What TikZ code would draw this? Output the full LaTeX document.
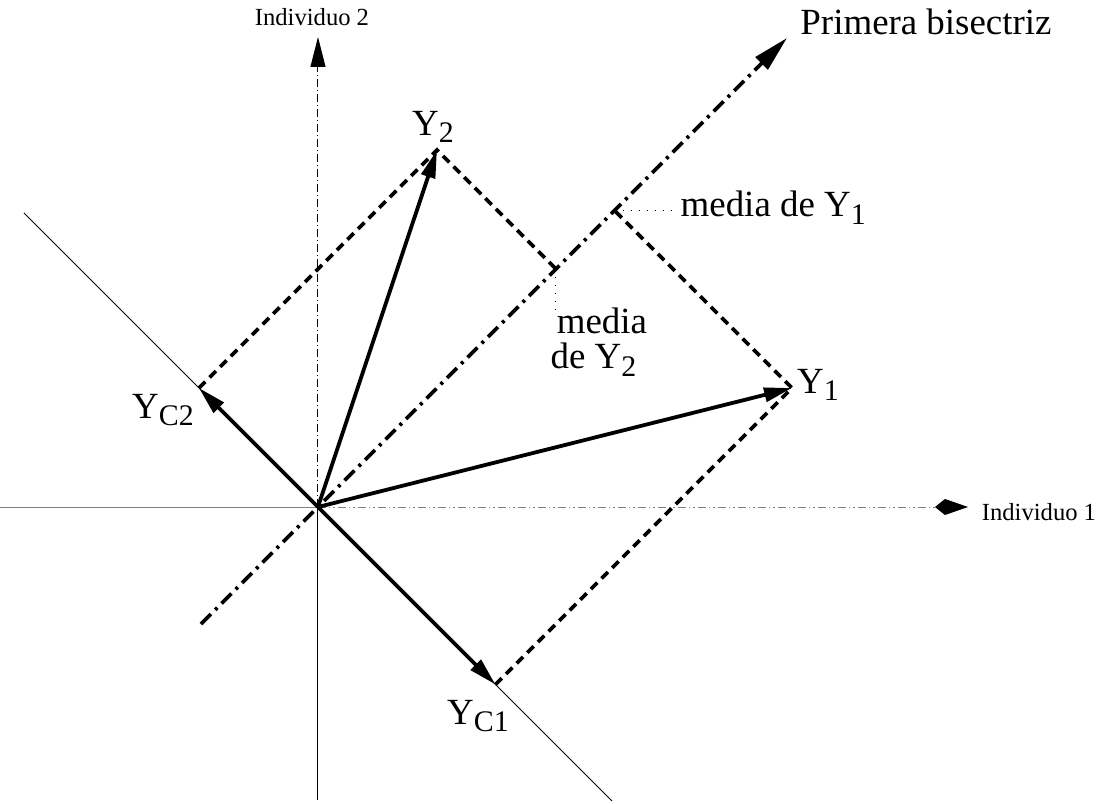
\documentclass[tikz,border=0pt]{standalone}
\usepackage{fontspec}
\setmainfont{Liberation Serif}
\usetikzlibrary{arrows.meta}

\newcommand{\subin}[1]{\raisebox{-0.45ex}{\fontsize{8.5}{8.5}\selectfont #1}}

\begin{document}
\begin{tikzpicture}[x=0.1mm, y=0.1mm,
      every node/.style={inner sep=0pt, font=\fontsize{10.5}{12}\selectfont},
      small/.style={font=\fontsize{7}{8.4}\selectfont},
      eje/.style={line width=0.1mm},
      vec/.style={line width=0.38mm, -{Triangle[length=2.8mm, width=1.4mm]}},
      proy/.style={line width=0.36mm, dash pattern=on 0.9mm off 0.6mm},
      bisec/.style={line width=0.36mm, dash pattern=on 1.4mm off 0.6mm on 0.3mm off 0.6mm,
                    -{Triangle[length=3.6mm, width=1.7mm]}},
      guia/.style={line width=0.1mm, dotted}]
  \useasboundingbox (-318,-297) rectangle (794,507);
  % puntos
  \coordinate (O) at (0,0);
  \coordinate (Y1) at (474,119);
  \coordinate (Y2) at (119,357);
  \coordinate (YC1) at (177.5,-177.5);
  \coordinate (YC2) at (-119,119);
  \coordinate (M1) at (296.5,296.5);
  \coordinate (M2) at (238,238);
  \coordinate (XL) at (-318,0);
  \coordinate (XR) at (650,0);
  \coordinate (YT) at (0,470);
  \coordinate (YB) at (0,-293);
  \coordinate (B0) at (-117,-117);
  \coordinate (B1) at (469,469);
  \coordinate (A0) at (-294,294);
  \coordinate (A1) at (294,-294);
  \coordinate (G1) at (357,296.5);
  \coordinate (G2) at (238,194);
  % ejes
  \draw[eje, gray] (XL) -- (O);
  \draw[eje, gray, dash pattern=on 0.8mm off 0.3mm on 0.15mm off 0.3mm on 0.15mm off 0.3mm,
        -{Kite[length=3.3mm, width=1.6mm, inset=1mm, color=black]}] (O) -- (XR);
  \draw[eje, dash pattern=on 0.8mm off 0.3mm on 0.1mm off 0.3mm,
        -{Triangle[length=3mm, width=1.5mm]}] (O) -- (YT);
  \draw[eje] (O) -- (YB);
  \draw[eje] (A0) -- (A1);
  \draw[bisec] (B0) -- (B1);
  % proyecciones
  \draw[proy] (YC2) -- (Y2) -- (M2);
  \draw[proy] (YC1) -- (Y1) -- (M1);
  \draw[guia] (M1) -- (G1);
  \draw[guia] (M2) -- (G2);
  % vectores
  \draw[vec] (O) -- (Y1);
  \draw[vec] (O) -- (Y2);
  \draw[vec] (O) -- (YC1);
  \draw[vec] (O) -- (YC2);
  % textos
  \node[small] (ind2) at (-6,490) {Individuo 2};
  \node[small] (ind1) at (721,-5) {Individuo 1};
  \node (pb) at (608,485) {Primera bisectriz};
  \node (lY2) at (115,380) {Y\subin{2}};
  \node (lY1) at (500,122) {Y\subin{1}};
  \node (lYC2) at (-155,97) {Y\subin{C2}};
  \node (lYC1) at (160,-209) {Y\subin{C1}};
  \node[anchor=base west] (med1) at (362,290) {media de Y\subin{1}};
  \node[anchor=north west, align=left, font=\fontsize{10.5}{10}\selectfont] (med2) at (232,200)
    {\,media\\de Y\subin{2}};
\end{tikzpicture}
\end{document}
